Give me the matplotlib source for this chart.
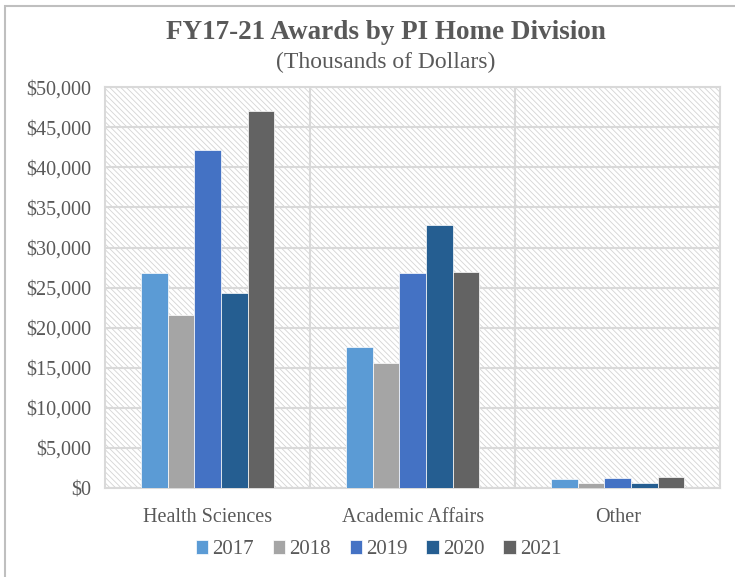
import numpy as np
import matplotlib.pyplot as plt
from matplotlib.patches import Rectangle

divisions = ['Health Sciences', 'Academic Affairs', 'Other']
years = ['2017', '2018', '2019', '2020', '2021']
fy2017 = [26800, 17600, 1100]
fy2018 = [21600, 15600, 700]
fy2019 = [42100, 26800, 1300]
fy2020 = [24300, 32800, 600]
fy2021 = [47000, 26900, 1400]
series = [fy2017, fy2018, fy2019, fy2020, fy2021]
colors = ['#5B9BD5', '#A5A5A5', '#4472C4', '#255E91', '#636363']

plt.rcParams['font.family'] = ['Liberation Serif', 'DejaVu Serif']
plt.rcParams['hatch.linewidth'] = 0.6
plt.rcParams['hatch.color'] = '#d4d4d4'
text_color = '#595959'

fig = plt.figure(figsize=(7.35, 5.77), dpi=100)
ax = fig.add_axes([0.143, 0.154, 0.837, 0.695])

# hatched plot background
ax.add_patch(Rectangle((0, 0), 1, 1, transform=ax.transAxes, facecolor='white',
                       edgecolor='#d4d4d4', hatch='\\\\\\\\\\\\', linewidth=0, zorder=0))

x = np.arange(len(divisions))
w = 0.13
for i, (vals, c, yr) in enumerate(zip(series, colors, years)):
    ax.bar(x + (i - 2) * w, vals, w, color=c, edgecolor='white', linewidth=0.5,
           label=yr, zorder=3)

ax.set_xlim(-0.5, 2.5)
ax.set_ylim(0, 50000)
ax.set_yticks(np.arange(0, 50001, 5000))
ax.set_yticklabels(['${:,}'.format(v) for v in range(0, 50001, 5000)])
ax.set_xticks(x)
ax.set_xticklabels(divisions)
ax.tick_params(length=0, labelsize=14.5, colors=text_color)
ax.tick_params(axis='x', pad=14)
ax.tick_params(axis='y', pad=10)
ax.grid(axis='y', color='#d9d9d9', linewidth=1.5, zorder=1)
ax.set_axisbelow(True)
for xv in [0.5, 1.5]:
    ax.axvline(xv, color='#d9d9d9', linewidth=1.5, zorder=1)
for s in ax.spines.values():
    s.set_color('#d9d9d9')
    s.set_linewidth(1.5)

fig.text(0.525, 0.943, 'FY17-21 Awards by PI Home Division', ha='center', va='center',
         fontsize=19.5, fontweight='bold', color=text_color)
fig.text(0.525, 0.891, '(Thousands of Dollars)', ha='center', va='center',
         fontsize=17, color=text_color)

leg = fig.legend(loc='center', bbox_to_anchor=(0.515, 0.047), ncol=5, frameon=False,
                 fontsize=15, handlelength=0.6, handleheight=0.6, handletextpad=0.2,
                 columnspacing=0.9)
for t in leg.get_texts():
    t.set_color(text_color)

fig.patches.append(Rectangle((0.007, -0.01), 1.2, 1.0, transform=fig.transFigure,
                             fill=False, edgecolor='#bfbfbf', linewidth=1.5))

fig.savefig('out.png', dpi=100)
